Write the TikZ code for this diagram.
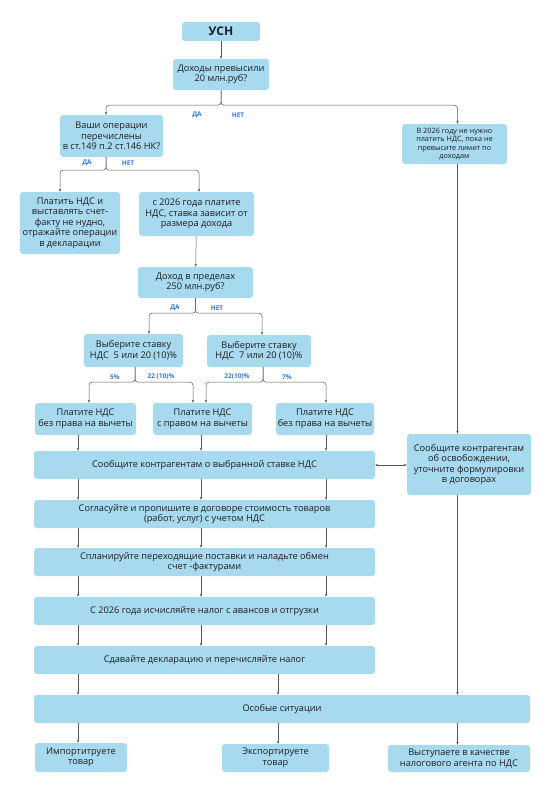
\documentclass[tikz,border=0pt]{standalone}
\usepackage{fontspec}
\setmainfont{Open Sans}
\usetikzlibrary{arrows.meta}
\definecolor{boxblue}{RGB}{167,217,239}
\definecolor{lblblue}{RGB}{50,120,225}
\definecolor{linegray}{RGB}{85,85,85}
\definecolor{txt}{RGB}{30,30,30}
\tikzset{
  box/.style={fill=boxblue, text=txt, rounded corners=3pt, inner sep=1pt, align=center, font=\fontsize{9.2}{10.5}\selectfont},
  smallbox/.style={box, font=\fontsize{7.3}{8.6}\selectfont},
  conn/.style={draw=linegray, line width=0.5pt, -{Stealth[length=3pt,width=2.4pt]}},
  branch/.style={conn, rounded corners=3pt},
  lbl/.style={text=lblblue, font=\bfseries\fontsize{6.5}{7}\selectfont, inner sep=0pt},
}
\begin{document}
\begin{tikzpicture}[x=1pt,y=-1pt]
\useasboundingbox (0,0) rectangle (557,800);
% columns
\coordinate (c1) at (78,0);
\coordinate (c2) at (201,0);
\coordinate (c3) at (326,0);
\coordinate (c4) at (278,0);
\coordinate (c5) at (457.5,0);

\node[box, minimum width=78pt, minimum height=19pt, font=\bfseries\fontsize{12}{14}\selectfont] (usn) at (221,31.5) {УСН};
\node[box, minimum width=96pt, minimum height=31pt] (q1) at (221,74.5) {Доходы превысили\\20 млн.руб?};
\node[box, minimum width=103pt, minimum height=42pt] (q2) at (111.5,136) {Ваши операции\\перечислены\\в ст.149 п.2 ст.146 НК?};
\node[smallbox, minimum width=105pt, minimum height=40pt] (r1) at (454.5,144) {В 2026 году не нужно\\платить НДС, пока не\\превысите лимит по\\доходам};
\node[box, minimum width=100pt, minimum height=62pt] (a1) at (70,223) {Платить НДС и\\выставлять счет-\\факту не нудно,\\отражайте операции\\в декларации};
\node[box, minimum width=115pt, minimum height=44pt] (b1) at (196.5,214) {с 2026 года платите\\НДС, ставка зависит от\\размера дохода};
\node[box, minimum width=115pt, minimum height=31pt] (q3) at (195.5,282.5) {Доход в пределах\\250 млн.руб?};
\node[box, minimum width=99pt, minimum height=33pt] (s5) at (133.5,350.5) {Выберите ставку\\НДС\ \ 5 или 20 (10)\%};
\node[box, minimum width=104pt, minimum height=32pt] (s7) at (259,351) {Выберите ставку\\НДС\ \ 7 или 20 (10)\%};
\node[box, minimum width=101pt, minimum height=32pt] (p1) at (85.5,419) {Платите НДС\\без права на вычеты};
\node[box, minimum width=99pt, minimum height=32pt] (p2) at (202.5,419) {Платите НДС\\с правом на вычеты};
\node[box, minimum width=98pt, minimum height=32pt] (p3) at (325,419) {Платите НДС\\без права на вычеты};
\node[box, minimum width=341pt, minimum height=28pt] (n1) at (204.5,465) {Сообщите контрагентам о выбранной ставке НДС};
\node[box, minimum width=124pt, minimum height=61pt] (r2) at (469,464.5) {Сообщите контрагентам\\об освобождении,\\уточните формулировки\\в договорах};
\node[box, minimum width=341pt, minimum height=28pt] (n2) at (204.5,514) {Согласуйте и пропишите в договоре стоимость товаров\\(работ, услуг) с учетом НДС};
\node[box, minimum width=341pt, minimum height=28pt] (n3) at (204.5,562) {Спланируйте переходящие поставки и наладьте обмен\\счет -фактурами};
\node[box, minimum width=341pt, minimum height=28pt] (n4) at (204.5,611) {С 2026 года исчисляйте налог с авансов и отгрузки};
\node[box, minimum width=341pt, minimum height=28pt] (n5) at (204.5,660) {Сдавайте декларацию и перечисляйте налог};
\node[box, minimum width=496pt, minimum height=28pt] (sp) at (282,709) {Особые ситуации};
\node[box, minimum width=92pt, minimum height=29pt] (e1) at (81,757.5) {Импортитруете\\товар};
\node[box, minimum width=107pt, minimum height=28pt] (e2) at (275.5,758) {Экспортируете\\товар};
\node[box, minimum width=142pt, minimum height=27pt] (e3) at (459,758.5) {Выступаете в качестве\\налогового агента по НДС};

% connectors
\draw[conn] (usn) -- (q1);
\draw[branch] (q1.south) -- ++(0,15) -| ([xshift=-5.5pt]q2.north);
\draw[branch] (q1.south) -- ++(0,15) -| ([xshift=3pt]r1.north);
\node[lbl] (l1) at (197,115) {ДА};
\node[lbl] (l2) at (238,115) {НЕТ};

\draw[branch] ([xshift=-5.5pt]q2.south) -- ++(0,13) -| ([xshift=-10pt]a1.north);
\draw[branch] ([xshift=-5.5pt]q2.south) -- ++(0,13) -| ([xshift=2.5pt]b1.north);
\node[lbl] (l3) at (87,163) {ДА};
\node[lbl] (l4) at (128,163) {НЕТ};

\draw[conn] (b1) -- (q3);
\draw[branch] (q3.south) -- ++(0,15) -| ([xshift=15.5pt]s5.north);
\draw[branch] (q3.south) -- ++(0,15) -| ([xshift=3pt]s7.north);
\node[lbl] (l5) at (175,308) {ДА};
\node[lbl] (l6) at (217,308) {НЕТ};

\draw[branch] ([xshift=1.5pt]s5.south) -- ++(0,15) -| ([xshift=3.5pt]p1.north);
\draw[branch] ([xshift=1.5pt]s5.south) -- ++(0,15) -| ([xshift=-9.5pt]p2.north);
\draw[branch] ([xshift=4pt]s7.south) -- ++(0,15) -| ([xshift=3.5pt]p2.north);
\draw[branch] ([xshift=4pt]s7.south) -- ++(0,15) -| ([xshift=1pt]p3.north);
\node[lbl] (l7) at (115,377) {5\%};
\node[lbl] (l8) at (161,377) {22 (10)\%};
\node[lbl] (l9) at (237,377) {22(10)\%};
\node[lbl] (l10) at (287,377) {7\%};

\draw[conn] (p1.south -| c1) -- (n1.north -| c1);
\draw[conn] (p2.south -| c2) -- (n1.north -| c2);
\draw[conn] (p3.south -| c3) -- (n1.north -| c3);
\foreach \u/\v in {n1/n2, n2/n3, n3/n4, n4/n5} {
  \draw[conn] (\u.south -| c1) -- (\v.north -| c1);
  \draw[conn] (\u.south -| c2) -- (\v.north -| c2);
  \draw[conn] (\u.south -| c3) -- (\v.north -| c3);
}
\draw[conn] (n5.south -| c1) -- (sp.north -| c1);
\draw[conn] (n5.south -| c4) -- (sp.north -| c4);

\draw[conn] (r1.south -| c5) -- (r2.north -| c5);
\draw[conn, {Stealth[length=3pt,width=2.4pt]}-{Stealth[length=3pt,width=2.4pt]}] (n1.east) -- (r2.west |- n1.east);
\draw[conn] (r2.south -| c5) -- (sp.north -| c5);

\draw[conn] (sp.south -| c1) -- (e1.north -| c1);
\draw[conn] (sp.south -| c4) -- (e2.north -| c4);
\draw[conn] (sp.south -| c5) -- (e3.north -| c5);
\end{tikzpicture}
\end{document}
